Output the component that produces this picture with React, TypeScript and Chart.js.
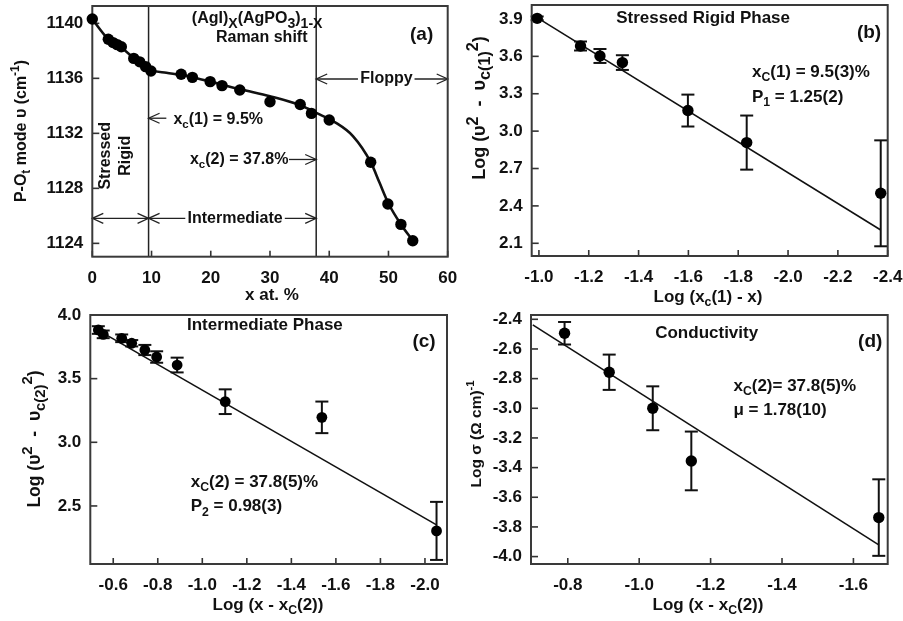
import React, { useEffect, useRef } from 'react';
import { Chart, registerables } from 'chart.js';
Chart.register(...registerables);

// ---------- Panel (a): Raman shift vs x ----------
const aX = [0, 2.7, 3.5, 4.2, 4.9, 7.0, 8.0, 9.0, 9.9, 15.0, 16.9, 19.9, 21.9, 24.9, 30.0, 35.1, 37.0, 40.0, 47.0, 49.9, 52.1, 54.1];
const aY = [1140.32, 1138.84, 1138.6, 1138.45, 1138.3, 1137.45, 1137.2, 1136.85, 1136.53, 1136.3, 1136.07, 1135.76, 1135.47, 1135.15, 1134.3, 1134.1, 1133.45, 1132.97, 1129.9, 1126.86, 1125.38, 1124.19];
const aCurveX = [0, 2.7, 5, 7.5, 10, 12.5, 15, 20, 25, 30, 35, 38, 41, 44, 47, 48.5, 50, 52, 54.1];
const aCurveY = [1140.3, 1138.85, 1138.2, 1137.3, 1136.6, 1136.4, 1136.24, 1135.76, 1135.2, 1134.7, 1134.06, 1133.45, 1132.8, 1131.8, 1129.9, 1128.4, 1126.9, 1125.45, 1124.2];
const aXTicks = [0, 10, 20, 30, 40, 50, 60];
const aYTicks = [1124, 1128, 1132, 1136, 1140];
const xc1 = 9.5;
const xc2 = 37.8;

// ---------- Panel (b): stressed rigid phase ----------
const bX = [-0.993, -1.167, -1.245, -1.335, -1.598, -1.834, -2.372];
const bY = [3.905, 3.683, 3.603, 3.55, 3.165, 2.908, 2.501];
const bErr = [0.015, 0.036, 0.056, 0.059, 0.128, 0.217, 0.425];
const bFitX = [-1.004, -2.372];
const bFitY = [3.897, 2.207];
const bXTicks = [-1.0, -1.2, -1.4, -1.6, -1.8, -2.0, -2.2, -2.4];
const bYTicks = [2.1, 2.4, 2.7, 3.0, 3.3, 3.6, 3.9];

// ---------- Panel (c): intermediate phase ----------
const cX = [-0.533, -0.555, -0.638, -0.683, -0.742, -0.795, -0.887, -1.103, -1.537, -2.052];
const cY = [3.882, 3.848, 3.817, 3.778, 3.725, 3.67, 3.607, 3.319, 3.196, 2.304];
const cErr = [0.03, 0.03, 0.03, 0.025, 0.04, 0.045, 0.058, 0.097, 0.124, 0.228];
const cFitX = [-0.518, -2.052];
const cFitY = [3.895, 2.351];
const cXTicks = [-0.6, -0.8, -1.0, -1.2, -1.4, -1.6, -1.8, -2.0];
const cYTicks = [2.5, 3.0, 3.5, 4.0];

// ---------- Panel (d): conductivity ----------
const dX = [-0.791, -0.916, -1.038, -1.146, -1.671];
const dY = [-2.494, -2.757, -3.0, -3.355, -3.737];
const dErr = [0.076, 0.119, 0.148, 0.198, 0.258];
const dFitX = [-0.702, -1.671];
const dFitY = [-2.438, -3.921];
const dXTicks = [-0.8, -1.0, -1.2, -1.4, -1.6];
const dYTicks = [-2.4, -2.6, -2.8, -3.0, -3.2, -3.4, -3.6, -3.8, -4.0];

const FONT = '"Liberation Sans", Arial, Helvetica, sans-serif';
const INK = '#111';
const W = 903;
const H = 621;
const YW = 60;
const XH = 40;

type Seg = { t: string; k?: 'sub' | 'sup' };
const n = (t: string): Seg => ({ t });
const sb = (t: string): Seg => ({ t, k: 'sub' });
const sp = (t: string): Seg => ({ t, k: 'sup' });

interface Annot { x: number; y: number; segs: Seg[]; align?: 'left' | 'center' | 'right'; size?: number; rot?: boolean; subScale?: number }
interface Arrow { x1: number; x2: number; y: number; head: 'both' | 'start' | 'end'; gap?: [number, number] }
interface Panel {
  px: number[]; py: number[]; err?: number[];
  lx: number[]; ly: number[]; smooth?: boolean; lineWidth: number;
  xTicks: number[]; yTicks: number[]; dec: number;
  xMin: number; xMax: number; yMin: number; yMax: number; reverse: boolean;
  plot: { l: number; t: number; r: number; b: number };
  xTitle: Seg[]; yTitle: Seg[]; xTitlePos: [number, number]; yTitlePos: [number, number];
  yTitleSize: number; yTitleSub: number;
  annots: Annot[]; arrows?: Arrow[]; vlines?: number[]; radius: number;
}

function drawRich(ctx: CanvasRenderingContext2D, segs: Seg[], x: number, y: number, size: number, align: string, subScale = 0.72) {
  const widths: number[] = [];
  let total = 0;
  for (const s of segs) {
    const fs = s.k ? size * subScale : size;
    ctx.font = `bold ${fs}px ${FONT}`;
    const w = ctx.measureText(s.t).width;
    widths.push(w);
    total += w;
  }
  let cx = align === 'left' ? x : align === 'center' ? x - total / 2 : x - total;
  ctx.textAlign = 'left';
  ctx.textBaseline = 'middle';
  ctx.fillStyle = INK;
  segs.forEach((s, i) => {
    const fs = s.k ? size * subScale : size;
    ctx.font = `bold ${fs}px ${FONT}`;
    const dy = s.k === 'sub' ? size * 0.32 : s.k === 'sup' ? -size * 0.38 : 0;
    ctx.fillText(s.t, cx, y + dy);
    cx += widths[i];
  });
}

function line(ctx: CanvasRenderingContext2D, x1: number, y1: number, x2: number, y2: number) {
  ctx.beginPath();
  ctx.moveTo(x1, y1);
  ctx.lineTo(x2, y2);
  ctx.stroke();
}

function head(ctx: CanvasRenderingContext2D, X: number, Y: number, dir: number) {
  const L = 11, h = 5;
  ctx.beginPath();
  ctx.moveTo(X - dir * L, Y - h);
  ctx.lineTo(X, Y);
  ctx.lineTo(X - dir * L, Y + h);
  ctx.stroke();
}

function makeChart(canvas: HTMLCanvasElement, p: Panel) {
  const plugin = {
    id: 'decor',
    beforeDatasetsDraw(chart: any) {
      const { ctx, chartArea: a } = chart;
      const xs = chart.scales.x, ys = chart.scales.y;
      ctx.save();
      ctx.strokeStyle = '#222';
      ctx.lineWidth = 1.5;
      for (const v of p.vlines ?? []) {
        const X = xs.getPixelForValue(v);
        line(ctx, X, a.top, X, a.bottom);
      }
      ctx.lineWidth = 1.3;
      for (const ar of p.arrows ?? []) {
        const X1 = xs.getPixelForValue(ar.x1), X2 = xs.getPixelForValue(ar.x2), Y = ys.getPixelForValue(ar.y);
        if (ar.gap) {
          line(ctx, X1, Y, xs.getPixelForValue(ar.gap[0]), Y);
          line(ctx, xs.getPixelForValue(ar.gap[1]), Y, X2, Y);
        } else line(ctx, X1, Y, X2, Y);
        if (ar.head === 'both' || ar.head === 'start') head(ctx, X1, Y, -1);
        if (ar.head === 'both' || ar.head === 'end') head(ctx, X2, Y, 1);
      }
      if (p.err) {
        ctx.strokeStyle = '#111';
        ctx.lineWidth = 2;
        p.err.forEach((e, i) => {
          const X = xs.getPixelForValue(p.px[i]);
          const Y1 = ys.getPixelForValue(p.py[i] - e), Y2 = ys.getPixelForValue(p.py[i] + e);
          line(ctx, X, Y1, X, Y2);
          line(ctx, X - 6.5, Y1, X + 6.5, Y1);
          line(ctx, X - 6.5, Y2, X + 6.5, Y2);
        });
      }
      // inward ticks
      ctx.strokeStyle = '#333';
      ctx.lineWidth = 1.6;
      for (const t of p.xTicks) {
        const X = xs.getPixelForValue(t);
        line(ctx, X, a.bottom, X, a.bottom - 6);
      }
      for (const t of p.yTicks) {
        const Y = ys.getPixelForValue(t);
        line(ctx, a.left, Y, a.left + 7, Y);
      }
      ctx.lineWidth = 2;
      ctx.strokeStyle = '#3a3a3a';
      ctx.strokeRect(a.left, a.top, a.right - a.left, a.bottom - a.top);
      ctx.restore();
    },
    afterDatasetsDraw(chart: any) {
      const { ctx } = chart;
      const xs = chart.scales.x, ys = chart.scales.y;
      ctx.save();
      for (const an of p.annots) {
        const X = xs.getPixelForValue(an.x), Y = ys.getPixelForValue(an.y);
        if (an.rot) {
          ctx.save();
          ctx.translate(X, Y);
          ctx.rotate(-Math.PI / 2);
          drawRich(ctx, an.segs, 0, 0, an.size ?? 17, an.align ?? 'center', an.subScale);
          ctx.restore();
        } else {
          drawRich(ctx, an.segs, X, Y, an.size ?? 17, an.align ?? 'left', an.subScale);
        }
      }
      drawRich(ctx, p.xTitle, p.xTitlePos[0], p.xTitlePos[1], 17, 'center');
      ctx.save();
      ctx.translate(p.yTitlePos[0], p.yTitlePos[1]);
      ctx.rotate(-Math.PI / 2);
      drawRich(ctx, p.yTitle, 0, 0, p.yTitleSize, 'center', p.yTitleSub);
      ctx.restore();
      ctx.restore();
    },
  };
  const tickFont = { family: FONT, size: 17, weight: 'bold' as const };
  const zeroPad = (s: any) => { s.paddingLeft = 0; s.paddingRight = 0; s.paddingTop = 0; s.paddingBottom = 0; };
  return new Chart(canvas, {
    type: 'scatter',
    data: {
      datasets: [
        {
          data: p.lx.map((v, i) => ({ x: v, y: p.ly[i] })),
          showLine: true,
          borderColor: '#111',
          borderWidth: p.lineWidth,
          pointRadius: 0,
          pointHoverRadius: 0,
          cubicInterpolationMode: p.smooth ? 'monotone' : 'default',
          tension: 0,
          clip: false as any,
          order: 1,
        } as any,
        {
          data: p.px.map((v, i) => ({ x: v, y: p.py[i] })),
          showLine: false,
          pointRadius: p.radius,
          pointHoverRadius: p.radius,
          backgroundColor: '#000',
          borderWidth: 0,
          clip: false as any,
          order: 0,
        } as any,
      ],
    },
    options: {
      responsive: false,
      animation: false,
      events: [],
      layout: {
        autoPadding: false,
        padding: { left: p.plot.l - YW, top: p.plot.t, right: W - p.plot.r, bottom: H - p.plot.b - XH },
      },
      plugins: { legend: { display: false }, tooltip: { enabled: false } },
      scales: {
        x: {
          type: 'linear', position: 'bottom', min: p.xMin, max: p.xMax, reverse: p.reverse,
          grid: { display: false, drawTicks: false }, border: { display: false },
          ticks: { font: tickFont, color: INK, padding: 11, maxRotation: 0, autoSkip: false, callback: (v: any) => Number(v).toFixed(p.dec) },
          afterBuildTicks: (s: any) => { s.ticks = p.xTicks.map((v) => ({ value: v })); },
          afterFit: (s: any) => { s.height = XH; zeroPad(s); },
        },
        y: {
          type: 'linear', position: 'left', min: p.yMin, max: p.yMax,
          grid: { display: false, drawTicks: false }, border: { display: false },
          ticks: { font: tickFont, color: INK, padding: 9, autoSkip: false, callback: (v: any) => Number(v).toFixed(p.dec) },
          afterBuildTicks: (s: any) => { s.ticks = p.yTicks.map((v) => ({ value: v })); },
          afterFit: (s: any) => { s.width = YW; zeroPad(s); },
        },
      },
    } as any,
    plugins: [plugin],
  });
}

const panels: Panel[] = [
  {
    px: aX, py: aY, lx: aCurveX, ly: aCurveY, smooth: true, lineWidth: 2.6,
    xTicks: aXTicks, yTicks: aYTicks, dec: 0,
    xMin: 0, xMax: 60, yMin: 1123.03, yMax: 1141.26, reverse: false,
    plot: { l: 92.3, t: 6, r: 447.7, b: 256.7 },
    xTitle: [n('x at. %')], xTitlePos: [272, 295],
    yTitle: [n('P-O'), sb('t'), n(' mode \u03c5 (cm'), sp('-1'), n(')')], yTitlePos: [21.7, 131],
    yTitleSize: 16, yTitleSub: 0.75,
    radius: 5.7,
    vlines: [xc1, xc2],
    arrows: [
      { x1: 0, x2: xc1, y: 1125.82, head: 'both' },
      { x1: xc1, x2: xc2, y: 1125.82, head: 'both', gap: [15.7, 32.5] },
      { x1: xc2, x2: 60, y: 1135.95, head: 'both', gap: [44.85, 54.4] },
      { x1: xc1, x2: 12.5, y: 1133.1, head: 'start' },
      { x1: 33.2, x2: xc2, y: 1130.1, head: 'end' },
    ],
    annots: [
      { x: 16.8, y: 1140.31, segs: [n('(AgI)'), sb('X'), n('(AgPO'), sb('3'), n(')'), sb('1-X')], align: 'left', size: 16, subScale: 0.88 },
      { x: 28.6, y: 1138.93, segs: [n('Raman shift')], align: 'center', size: 16 },
      { x: 55.6, y: 1139.15, segs: [n('(a)')], align: 'center', size: 19 },
      { x: 2.31, y: 1130.37, segs: [n('Stressed')], rot: true, size: 16 },
      { x: 5.54, y: 1130.37, segs: [n('Rigid')], rot: true, size: 16 },
      { x: 13.7, y: 1133.0, segs: [n('x'), sb('c'), n('(1) = 9.5%')], align: 'left', size: 16 },
      { x: 33.1, y: 1130.06, segs: [n('x'), sb('c'), n('(2) = 37.8%')], align: 'right', size: 16 },
      { x: 24.1, y: 1125.82, segs: [n('Intermediate')], align: 'center', size: 16 },
      { x: 49.65, y: 1135.95, segs: [n('Floppy')], align: 'center', size: 16 },
    ],
  },
  {
    px: bX, py: bY, err: bErr, lx: bFitX, ly: bFitY, lineWidth: 1.6,
    xTicks: bXTicks, yTicks: bYTicks, dec: 1,
    xMin: -2.4, xMax: -0.971, yMin: 1.998, yMax: 4.012, reverse: true,
    plot: { l: 531.7, t: 5, r: 887.7, b: 256 },
    xTitle: [n('Log (x'), sb('c'), n('(1) - x)')], xTitlePos: [708, 297],
    yTitle: [n('Log (\u03c5'), sp('2'), n('  -  \u03c5'), sb('c(1)'), sp('2'), n(')')], yTitlePos: [480, 108],
    yTitleSize: 18, yTitleSub: 0.9,
    radius: 5.7,
    annots: [
      { x: -1.659, y: 3.905, segs: [n('Stressed Rigid Phase')], align: 'center' },
      { x: -2.325, y: 3.79, segs: [n('(b)')], align: 'center', size: 19 },
      { x: -1.855, y: 3.475, segs: [n('x'), sb('C'), n('(1) = 9.5(3)%')] },
      { x: -1.855, y: 3.274, segs: [n('P'), sb('1'), n(' = 1.25(2)')] },
    ],
  },
  {
    px: cX, py: cY, err: cErr, lx: cFitX, ly: cFitY, lineWidth: 1.6,
    xTicks: cXTicks, yTicks: cYTicks, dec: 1,
    xMin: -2.099, xMax: -0.497, yMin: 2.044, yMax: 4.0, reverse: true,
    plot: { l: 90.3, t: 315, r: 447, b: 564 },
    xTitle: [n('Log (x - x'), sb('C'), n('(2))')], xTitlePos: [268, 605],
    yTitle: [n('Log (\u03c5'), sp('2'), n('  -  \u03c5'), sb('c(2)'), sp('2'), n(')')], yTitlePos: [35, 439],
    yTitleSize: 17.5, yTitleSub: 0.85,
    radius: 5.4,
    annots: [
      { x: -1.281, y: 3.921, segs: [n('Intermediate Phase')], align: 'center' },
      { x: -1.996, y: 3.79, segs: [n('(c)')], align: 'center', size: 19 },
      { x: -0.948, y: 2.683, segs: [n('x'), sb('C'), n('(2) = 37.8(5)%')] },
      { x: -0.948, y: 2.494, segs: [n('P'), sb('2'), n(' = 0.98(3)')] },
    ],
  },
  {
    px: dX, py: dY, err: dErr, lx: dFitX, ly: dFitY, lineWidth: 1.6,
    xTicks: dXTicks, yTicks: dYTicks, dec: 1,
    xMin: -1.696, xMax: -0.697, yMin: -4.05, yMax: -2.371, reverse: true,
    plot: { l: 531, t: 315, r: 887.7, b: 564 },
    xTitle: [n('Log (x - x'), sb('C'), n('(2))')], xTitlePos: [708, 605],
    yTitle: [n('Log \u03c3 (\u03a9 cm)'), sp('-1')], yTitlePos: [477, 434],
    yTitleSize: 15.5, yTitleSub: 0.72,
    radius: 5.7,
    annots: [
      { x: -1.189, y: -2.494, segs: [n('Conductivity')], align: 'center' },
      { x: -1.647, y: -2.551, segs: [n('(d)')], align: 'center', size: 19 },
      { x: -1.264, y: -2.85, segs: [n('x'), sb('C'), n('(2)= 37.8(5)%')] },
      { x: -1.264, y: -3.011, segs: [n('\u03bc = 1.78(10)')] },
    ],
  },
];

function PanelCanvas({ p }: { p: Panel }) {
  const ref = useRef<HTMLCanvasElement>(null);
  useEffect(() => {
    if (!ref.current) return;
    const c = makeChart(ref.current, p);
    return () => c.destroy();
  }, [p]);
  return <canvas ref={ref} width={W} height={H} style={{ position: 'absolute', left: 0, top: 0, width: W, height: H }} />;
}

export default function App() {
  return (
    <div style={{ position: 'absolute', left: 0, top: 0, width: W, height: H, background: '#fff', overflow: 'hidden' }}>
      {panels.map((p, i) => (
        <PanelCanvas key={i} p={p} />
      ))}
    </div>
  );
}
